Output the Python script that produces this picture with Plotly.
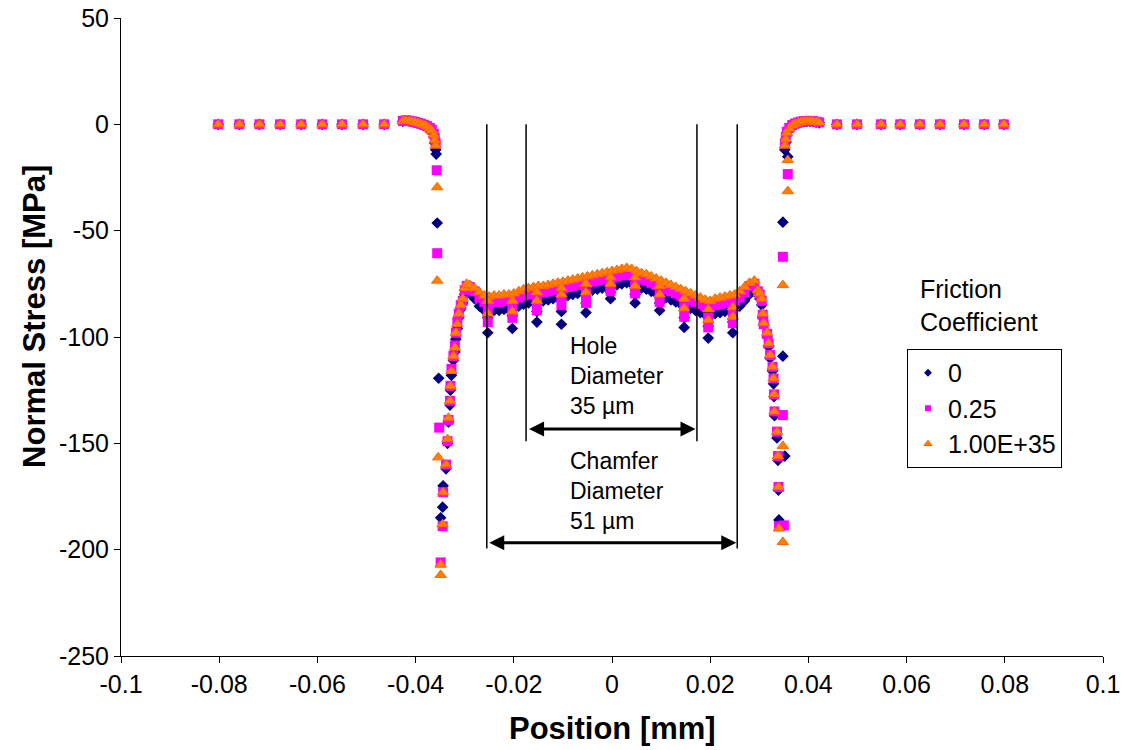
import plotly.graph_objects as go

# ---------------- data ----------------
series_names = ["0", "0.25", "1.00E+35"]

# flat outer parts (common positions)
far_left_x = [-0.0802, -0.0759, -0.0718, -0.0676, -0.0633, -0.0590, -0.0550, -0.0507, -0.0464]
far_left_y = [0, 0, 0, 0, 0, 0, 0, 0, 0]
far_right_x = [0.0458, 0.0499, 0.0548, 0.0587, 0.0627, 0.0668, 0.0717, 0.0758, 0.0798]
far_right_y = [0, 0, 0, 0, 0, 0, 0, 0, 0]

# left near-zero cluster
lc_x = [-0.0426, -0.0420, -0.0413, -0.0407, -0.0401, -0.0395, -0.0389,
        -0.0383, -0.0377, -0.0371, -0.0367, -0.0363, -0.0361, -0.0359]
lc_y_0 = [1.4, 1.7, 1.5, 1.2, 0.9, 0.5, 0.0, -0.5, -1.3, -2.4, -3.6, -5.8, -8.8, -12.0]
lc_y_025 = [1.6, 1.9, 1.7, 1.4, 1.1, 0.7, 0.3, -0.2, -0.8, -1.7, -2.6, -4.4, -6.5, -9.0]
lc_y_inf = [1.5, 1.8, 1.6, 1.3, 1.0, 0.6, 0.2, -0.3, -1.0, -2.0, -3.0, -5.0, -7.5, -10.0]

# left edge nodes (differ per series)
le_x_0 = [-0.0358, -0.0356, -0.0353]
le_y_0 = [-14.0, -46.4, -119.4]
le_x_025 = [-0.0357, -0.0356, -0.0352]
le_y_025 = [-21.6, -60.6, -142.6]
le_x_inf = [-0.0356, -0.0356, -0.0354, -0.0349]
le_y_inf = [-29.6, -73.5, -156.6, -211.9]

# left wall (common positions)
lw_x = [-0.0349, -0.0345, -0.0344, -0.0338, -0.0335, -0.0333, -0.0330, -0.0329, -0.0327,
        -0.0323, -0.0320, -0.0318, -0.0315, -0.0312, -0.0308, -0.0304, -0.0300, -0.0296]
lw_y_0 = [-185, -180, -170, -162, -150, -140, -132, -125, -118,
          -111, -107, -101, -96, -91, -87, -84, -80, -78]
lw_y_025 = [-206, -189, -173, -160, -149, -139, -130, -123, -115,
            -109, -104, -98, -93, -89, -85, -83, -78, -76]
lw_y_inf = [-207, -188, -173, -160, -148, -138, -130, -123, -116,
            -109, -105, -98, -94, -89, -85, -82, -77, -75]

# contact band under the punch (common positions)
mid_x = [-0.029, -0.028, -0.027, -0.026, -0.025, -0.024, -0.023, -0.022, -0.021, -0.020,
         -0.019, -0.018, -0.017, -0.016, -0.015, -0.014, -0.013, -0.012, -0.011, -0.010,
         -0.009, -0.008, -0.007, -0.006, -0.005, -0.004, -0.003, -0.002, -0.001, 0.000,
         0.001, 0.002, 0.003, 0.004, 0.005, 0.006, 0.007, 0.008, 0.009, 0.010,
         0.011, 0.012, 0.013, 0.014, 0.015, 0.016, 0.017, 0.018, 0.019, 0.020,
         0.021, 0.022, 0.023, 0.024, 0.025, 0.026, 0.027, 0.028, 0.029]
mid_y_inf = [-75.5, -77.0, -79.0, -80.5, -81.0, -80.5, -80.5, -80.0, -80.0, -79.5,
             -78.5, -77.5, -77.0, -76.5, -76.0, -76.0, -75.5, -75.0, -74.5, -74.0,
             -73.5, -73.0, -72.5, -72.0, -71.5, -71.0, -70.5, -70.0, -69.5, -69.0,
             -68.5, -68.0, -67.5, -68.0, -69.0, -70.0, -70.5, -71.5, -72.5, -73.5,
             -74.5, -75.5, -76.5, -77.5, -78.5, -79.5, -80.5, -81.5, -82.5, -83.0,
             -82.0, -81.5, -81.0, -80.5, -80.0, -78.5, -76.5, -74.5, -73.5]
mid_y_025 = [-76.5, -78.5, -81.5, -83.5, -84.0, -83.5, -83.5, -83.0, -83.0, -82.5,
             -81.5, -80.5, -80.0, -79.5, -79.0, -79.0, -78.5, -78.0, -77.5, -77.0,
             -76.5, -76.0, -75.5, -75.0, -74.5, -74.0, -73.5, -73.0, -72.5, -72.0,
             -71.5, -71.0, -70.5, -71.0, -72.0, -73.0, -73.5, -74.5, -75.5, -76.5,
             -77.5, -78.5, -79.5, -80.5, -81.5, -82.5, -83.5, -84.5, -85.5, -86.0,
             -85.0, -84.5, -84.0, -83.5, -83.0, -81.5, -79.0, -76.0, -75.0]
mid_y_0 = [-79.5, -82.0, -85.5, -87.5, -88.0, -87.5, -87.5, -87.0, -87.0, -86.5,
           -85.5, -84.5, -84.0, -83.5, -83.0, -83.0, -82.5, -82.0, -81.5, -81.0,
           -80.5, -80.0, -79.5, -79.0, -78.5, -78.0, -77.5, -77.0, -76.5, -76.0,
           -75.5, -75.0, -74.5, -75.0, -76.0, -77.0, -77.5, -78.5, -79.5, -80.5,
           -81.5, -82.5, -83.5, -84.5, -85.5, -86.5, -87.5, -88.5, -89.5, -90.0,
           -89.0, -88.5, -88.0, -87.5, -87.0, -85.5, -83.0, -80.0, -78.5]

# element-corner dips (two nodes per location)
dip_x = [-0.0253, -0.0203, -0.0153, -0.0103, -0.0053, -0.0003, 0.0047, 0.0097, 0.0147, 0.0196, 0.0246]
dip_mid_inf = [-83, -83, -79, -77, -75, -72, -72, -76, -82, -87, -86]
dip_deep_inf = [-89, -88, -83, -80, -79, -75, -76, -80, -86.5, -92, -90.5]
dip_mid_025 = [-87.5, -87, -83, -81, -79.5, -75.5, -76, -80, -86, -91, -89]
dip_deep_025 = [-93, -91, -87.5, -85, -84, -78.5, -79.5, -83.5, -90.5, -95.5, -93.5]
dip_mid_0 = [-91, -90, -88, -88, -84, -79, -80, -84, -91, -95, -93]
dip_deep_0 = [-98, -96, -93, -94, -88.5, -82, -84, -87.5, -95.5, -100.5, -98]

# right wall (common positions)
rw_x = [0.0297, 0.0301, 0.0305, 0.0307, 0.0309, 0.0316, 0.0319, 0.0322,
        0.0327, 0.0329, 0.0330, 0.0331, 0.0336, 0.0338, 0.0339, 0.0340]
rw_y_inf = [-78, -79.5, -82, -89, -93.5, -98, -103, -108.5,
            -114, -119.5, -127, -135, -144.5, -156, -170.5, -190]
rw_y_025 = [-78.5, -80, -83, -89.5, -94, -98.5, -103, -108.5,
            -114, -119.5, -127, -135, -144.5, -156, -170.5, -189]
rw_y_0 = [-80, -82, -85, -91, -94, -100, -104.6, -110,
          -116, -122, -128, -137, -147.5, -158, -172, -186]

# right edge nodes (differ per series)
re_x_0 = [0.0358, 0.0348, 0.0348, 0.0352]
re_y_0 = [-15.2, -46.0, -109.0, -156.0]
re_x_025 = [0.0358, 0.0348, 0.0348, 0.0350]
re_y_025 = [-23.4, -62.3, -136.7, -188.6]
re_x_inf = [0.0358, 0.0358, 0.0348, 0.0348, 0.0348]
re_y_inf = [-16.8, -31.4, -75.6, -151.2, -196.4]

# right near-zero cluster
rc_x = [0.0352, 0.0354, 0.0356, 0.0361, 0.0367, 0.0373, 0.0379,
        0.0385, 0.0391, 0.0397, 0.0403, 0.0409, 0.0416, 0.0422]
rc_y_0 = [-12, -8.5, -5, -2.5, -0.8, 0.1, 0.6, 1.0, 1.3, 1.4, 1.4, 1.3, 1.0, 0.7]
rc_y_025 = [-9, -6, -3.5, -1.7, -0.3, 0.4, 0.9, 1.3, 1.5, 1.6, 1.6, 1.5, 1.2, 0.9]
rc_y_inf = [-10, -7, -4, -2, -0.5, 0.3, 0.8, 1.2, 1.4, 1.5, 1.5, 1.4, 1.1, 0.8]

x_ticks = [-0.1, -0.08, -0.06, -0.04, -0.02, 0, 0.02, 0.04, 0.06, 0.08, 0.1]
x_tick_text = ["-0.1", "-0.08", "-0.06", "-0.04", "-0.02", "0", "0.02", "0.04", "0.06", "0.08", "0.1"]
y_ticks = [-250, -200, -150, -100, -50, 0, 50]
y_tick_text = ["-250", "-200", "-150", "-100", "-50", "0", "50"]

hole_half = [-0.0175, 0.0173]
chamfer_half = [-0.0255, 0.0255]

# ---------------- assemble series ----------------
def build(lc_y, le_x, le_y, lw_y, mid_y, dmid, ddeep, rw_y, re_x, re_y, rc_y):
    xs = far_left_x + lc_x + le_x + lw_x + mid_x + dip_x + dip_x + rw_x + re_x + rc_x + far_right_x
    ys = far_left_y + lc_y + le_y + lw_y + mid_y + dmid + ddeep + rw_y + re_y + rc_y + far_right_y
    return xs, ys

x0, y0 = build(lc_y_0, le_x_0, le_y_0, lw_y_0, mid_y_0, dip_mid_0, dip_deep_0,
               rw_y_0, re_x_0, re_y_0, rc_y_0)
x1, y1 = build(lc_y_025, le_x_025, le_y_025, lw_y_025, mid_y_025, dip_mid_025, dip_deep_025,
               rw_y_025, re_x_025, re_y_025, rc_y_025)
x2, y2 = build(lc_y_inf, le_x_inf, le_y_inf, lw_y_inf, mid_y_inf, dip_mid_inf, dip_deep_inf,
               rw_y_inf, re_x_inf, re_y_inf, rc_y_inf)

FONT = "Liberation Sans, Arial, sans-serif"
styles = [
    dict(symbol="diamond", color="#000080", line=dict(width=0)),
    dict(symbol="square", color="#FF00FF", line=dict(width=0)),
    dict(symbol="triangle-up", color="#FF8000", line=dict(width=1, color="#FF6600")),
]
data_sizes = [9, 10, 10]
legend_sizes = [6, 6, 7]

fig = go.Figure()
for xs, ys, name, st, sz in zip([x0, x1, x2], [y0, y1, y2], series_names, styles, data_sizes):
    fig.add_trace(go.Scatter(x=xs, y=ys, mode="markers", name=name, showlegend=False,
                             legendgroup=name, marker=dict(size=sz, **st)))
# legend entries with the small symbols of the original
for name, st, sz in zip(series_names, styles, legend_sizes):
    fig.add_trace(go.Scatter(x=[None], y=[None], mode="markers", name=name,
                             legendgroup=name, marker=dict(size=sz, **st)))

shapes = []
for xv in hole_half:
    shapes.append(dict(type="line", xref="x", yref="y", x0=xv, x1=xv, y0=0, y1=-149,
                       line=dict(color="black", width=1.5)))
for xv in chamfer_half:
    shapes.append(dict(type="line", xref="x", yref="y", x0=xv, x1=xv, y0=0, y1=-199.5,
                       line=dict(color="black", width=1.5)))

annotations = [
    dict(x=hole_half[1] - 0.0003, y=-143.3, ax=hole_half[0] + 0.0003, ay=-143.3,
         xref="x", yref="y", axref="x", ayref="y", text="", showarrow=True,
         arrowhead=2, startarrowhead=2, arrowside="end+start", arrowsize=1,
         startarrowsize=1, arrowwidth=3, arrowcolor="black", standoff=0, startstandoff=0),
    dict(x=chamfer_half[1] - 0.0002, y=-196.8, ax=chamfer_half[0] + 0.0002, ay=-196.8,
         xref="x", yref="y", axref="x", ayref="y", text="", showarrow=True,
         arrowhead=2, startarrowhead=2, arrowside="end+start", arrowsize=1,
         startarrowsize=1, arrowwidth=3, arrowcolor="black", standoff=0, startstandoff=0),
    dict(x=-0.009, y=-118.5, xref="x", yref="y", text="Hole<br>Diameter<br>35 µm",
         showarrow=False, xanchor="left", yanchor="middle", align="left",
         font=dict(family=FONT, size=23, color="black")),
    dict(x=-0.009, y=-172.5, xref="x", yref="y", text="Chamfer<br>Diameter<br>51 µm",
         showarrow=False, xanchor="left", yanchor="middle", align="left",
         font=dict(family=FONT, size=23, color="black")),
    dict(x=0.8116, y=0.5486, xref="paper", yref="paper", text="Friction<br>Coefficient",
         showarrow=False, xanchor="left", yanchor="middle", align="left",
         font=dict(family=FONT, size=25, color="black")),
    dict(x=-0.0876, y=0.533, xref="paper", yref="paper", text="<b>Normal Stress [MPa]</b>",
         showarrow=False, textangle=-90, xanchor="center", yanchor="middle",
         font=dict(family=FONT, size=31, color="black")),
    dict(x=0.5, y=-0.1129, xref="paper", yref="paper", text="<b>Position [mm]</b>",
         showarrow=False, xanchor="center", yanchor="middle",
         font=dict(family=FONT, size=31, color="black")),
]

fig.update_layout(
    template="none",
    width=1124, height=750,
    margin=dict(l=121, r=21, t=18, b=94, autoexpand=False),
    paper_bgcolor="white", plot_bgcolor="white",
    font=dict(family=FONT, size=25, color="black"),
    shapes=shapes, annotations=annotations,
    showlegend=True,
    legend=dict(x=0.8004, y=0.4812, xanchor="left", yanchor="top",
                bordercolor="black", borderwidth=1, bgcolor="white",
                font=dict(family=FONT, size=25, color="black"),
                itemsizing="trace", tracegroupgap=0),
)
fig.update_xaxes(range=[-0.1, 0.1], tickvals=x_ticks, ticktext=x_tick_text,
                 automargin=False,
                 showline=True, linecolor="black", linewidth=1, ticks="outside",
                 ticklen=6, tickcolor="black", showgrid=False, zeroline=False,
                 tickfont=dict(family=FONT, size=25, color="black"))
fig.update_yaxes(range=[-250, 50], tickvals=y_ticks, ticktext=y_tick_text,
                 automargin=False,
                 showline=True, linecolor="black", linewidth=1, ticks="outside",
                 ticklen=6, tickcolor="black", showgrid=False, zeroline=False,
                 tickfont=dict(family=FONT, size=25, color="black"))

fig.write_html("out.html")
